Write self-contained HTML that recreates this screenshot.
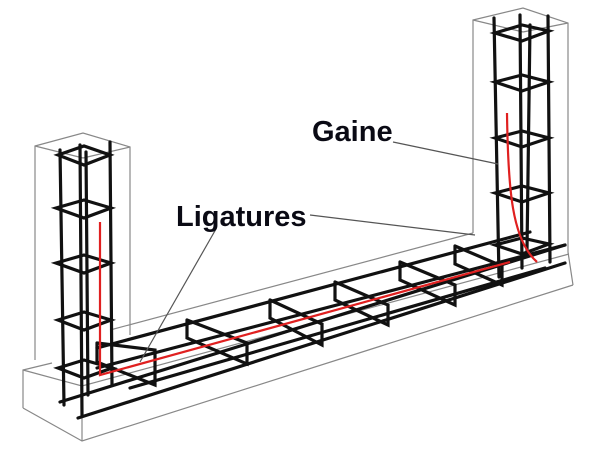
<!DOCTYPE html>
<html><head><meta charset="utf-8"><style>
html,body{margin:0;padding:0;background:#fff;}
svg{display:block;}
text{font-family:"Liberation Sans",sans-serif;font-weight:bold;font-size:29px;fill:#0a0a14;}
</style></head><body>
<svg width="600" height="450" viewBox="0 0 600 450" xmlns="http://www.w3.org/2000/svg">
<g fill="none" stroke="#888" stroke-width="1.2">
<polyline points="35,360 35,146 83,133 130,147 130,335"/>
<line x1="35" y1="146" x2="83" y2="158"/>
<line x1="83" y1="158" x2="130" y2="147"/>
<polyline points="473,233 473,20 523,8 568,23 568,252 573,285"/>
<line x1="473" y1="20" x2="523" y2="32"/>
<line x1="523" y1="32" x2="568" y2="23"/>
<polyline points="23,408 23,370 52,363"/>
<polyline points="23,370 82,386 569,254"/>
<line x1="82" y1="386" x2="82" y2="441"/>
<polyline points="23,408 82,441 573,285"/>
<line x1="110" y1="330" x2="473" y2="233"/>
</g>
<g fill="none" stroke="#111" stroke-width="3.2" stroke-linecap="round">
<line x1="60" y1="150" x2="64" y2="405"/>
<line x1="80" y1="145" x2="82" y2="415"/>
<line x1="86" y1="152" x2="88" y2="395"/>
<line x1="110" y1="142" x2="112" y2="385"/>
<polygon points="58,155 84,146 110,155 84,165"/>
<polygon points="56,208 84,200 111,208 84,218"/>
<polygon points="56,263 84,255 111,263 84,273"/>
<polygon points="58,320 84,312 111,320 84,330"/>
<polygon points="58,368 84,360 112,368 84,378"/>
<line x1="494" y1="18" x2="499" y2="277"/>
<line x1="520" y1="15" x2="522" y2="268"/>
<line x1="530" y1="25" x2="527" y2="250"/>
<line x1="548" y1="16" x2="550" y2="262"/>
<polygon points="495,33 522,25 549,31 522,41"/>
<polygon points="495,82 522,75 549,82 522,91"/>
<polygon points="495,138 522,131 549,138 522,147"/>
<polygon points="495,193 522,186 549,193 522,202"/>
<polygon points="495,245 522,238 549,244 522,254"/>
<line x1="97" y1="348" x2="530" y2="232"/>
<line x1="97" y1="368" x2="565" y2="245"/>
<line x1="60" y1="402" x2="565" y2="245"/>
<line x1="78" y1="418" x2="565" y2="263"/>
<line x1="130" y1="388" x2="545" y2="268"/>
<polyline points="97,343 97,362 155,385 155,350 97,343"/>
<polyline points="187,320 187,338 247,364 247,343 187,320"/>
<polyline points="270,300 270,318 322,345 322,324 270,300"/>
<polyline points="335,282 335,300 388,325 388,305 335,282"/>
<polyline points="400,262 400,280 455,305 455,285 400,262"/>
<polyline points="455,246 455,264 502,285 502,266 455,246"/>
</g>
<g fill="none" stroke="#e02020" stroke-width="2.2">
<polyline points="100,222 100,375 510,262"/>
<path d="M507,113 C508,190 512,240 537,262"/>
</g>
<g stroke="#555" stroke-width="1.2">
<line x1="393" y1="142" x2="498" y2="164"/>
<line x1="310" y1="215" x2="475" y2="235"/>
<line x1="216" y1="229" x2="140" y2="362"/>
</g>
<text x="312" y="141">Gaine</text>
<text x="176" y="226">Ligatures</text>
</svg>
</body></html>
